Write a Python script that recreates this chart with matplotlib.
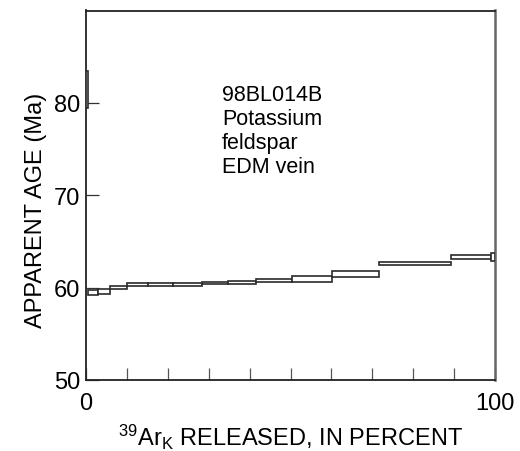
import matplotlib
matplotlib.use("Agg")
import matplotlib.pyplot as plt
from matplotlib.patches import Rectangle

plt.rcParams["font.family"] = ["Liberation Sans", "DejaVu Sans"]
plt.rcParams["mathtext.fontset"] = "custom"
plt.rcParams["mathtext.rm"] = "Liberation Sans"
plt.rcParams["mathtext.it"] = "Liberation Sans"

# Age spectrum steps: cumulative 39Ar released (%) at step start/end, and age range (Ma)
step_start = [0.0, 0.56, 3.0, 5.9, 10.0, 15.2, 21.3, 28.3, 34.8, 41.6, 50.4, 60.1, 71.6, 89.2, 98.9]
step_end   = [0.5, 2.86, 5.9, 10.0, 15.2, 21.3, 28.3, 34.8, 41.6, 50.4, 60.1, 71.6, 89.2, 98.9, 100.0]
age_low    = [79.4, 59.2, 59.3, 59.85, 60.2, 60.2, 60.2, 60.4, 60.4, 60.6, 60.65, 61.2, 62.4, 63.1, 62.9]
age_high   = [83.5, 59.7, 59.8, 60.2, 60.5, 60.5, 60.5, 60.6, 60.7, 60.9, 61.3, 61.8, 62.8, 63.5, 63.7]

x_ticks = list(range(0, 101, 10))
x_ticklabels = ["0", "", "", "", "", "", "", "", "", "", "100"]
y_ticks = [50, 60, 70, 80]
y_ticklabels = ["50", "60", "70", "80"]

sample_label = "98BL014B\nPotassium\nfeldspar\nEDM vein"

fig = plt.figure(figsize=(5.2, 4.52), dpi=100)
ax = fig.add_axes([86 / 520, 1 - 381 / 452, (495 - 86) / 520, (381 - 11.5) / 452])
ax.set_xlim(0, 100)
ax.set_ylim(50, 90)

for x0, x1, lo, hi in zip(step_start, step_end, age_low, age_high):
    ax.add_patch(Rectangle((x0, lo), x1 - x0, hi - lo, facecolor="white",
                           edgecolor="#2a2a2a", linewidth=1.2, zorder=3))

for name, s in ax.spines.items():
    s.set_linewidth(1.3)
    s.set_color("#222222")
ax.spines["right"].set_color("#666666")
ax.spines["right"].set_linewidth(1.8)

ax.set_xticks(x_ticks)
ax.set_xticklabels(x_ticklabels, fontsize=17)
ax.set_yticks(y_ticks)
ax.set_yticklabels(y_ticklabels, fontsize=17)
ax.tick_params(axis="x", direction="in", length=8.5, width=0.9, color="#555555", pad=9)
ax.tick_params(axis="y", direction="in", length=9, width=0.9, color="#333333", pad=4)

ax.set_xlabel(r"$^{39}$Ar$_{\mathrm{K}}$ RELEASED, IN PERCENT", fontsize=17, labelpad=5)
ax.set_ylabel("APPARENT AGE (Ma)", fontsize=17)
ax.yaxis.set_label_coords(-0.122, 0.463)
ax.yaxis.label.set_va("center")

ax.text(33.3, 82.0, sample_label, fontsize=15.5, va="top", ha="left", linespacing=1.18)

fig.savefig("out.png", dpi=100)
